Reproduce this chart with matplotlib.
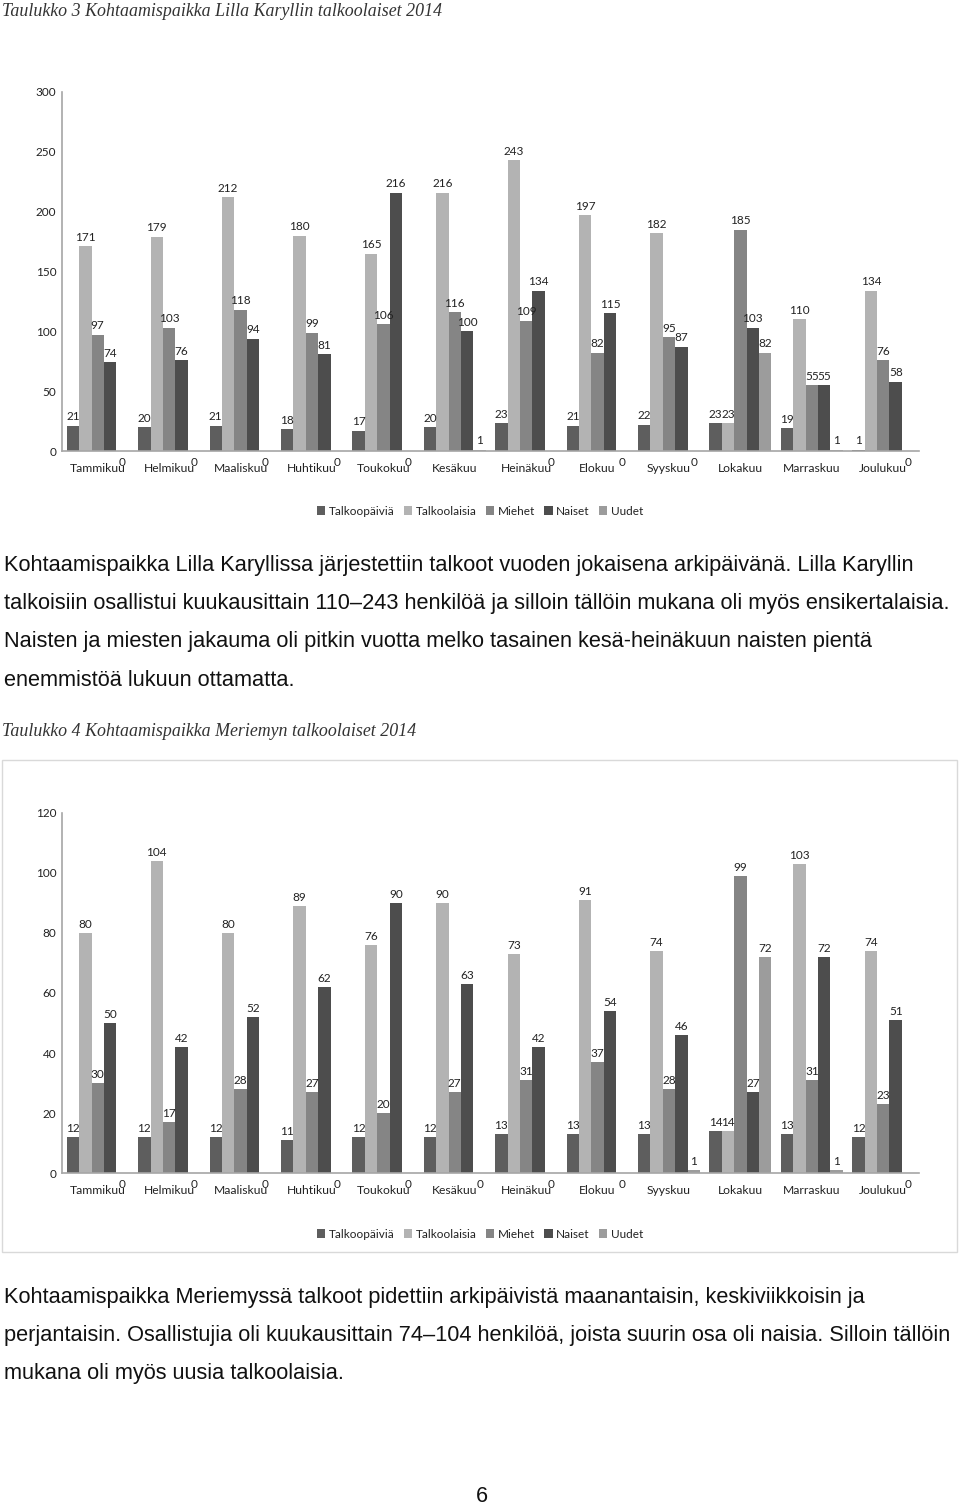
import matplotlib
matplotlib.use("Agg")
import matplotlib.pyplot as plt
from matplotlib.patches import Patch, Rectangle
import numpy as np

months = ["Tammikuu", "Helmikuu", "Maaliskuu", "Huhtikuu", "Toukokuu", "Kesäkuu",
          "Heinäkuu", "Elokuu", "Syyskuu", "Lokakuu", "Marraskuu", "Joulukuu"]
series_names = ["Talkoopäiviä", "Talkoolaisia", "Miehet", "Naiset", "Uudet"]

# Lilla Karyll
lk_talkoopaivia = [21, 20, 21, 18, 17, 20, 23, 21, 22, 23, 19, 1]
lk_talkoolaisia = [171, 179, 212, 180, 165, 216, 243, 197, 182, 23, 110, 134]
lk_miehet = [97, 103, 118, 99, 106, 116, 109, 82, 95, 185, 55, 76]
lk_naiset = [74, 76, 94, 81, 216, 100, 134, 115, 87, 103, 55, 58]
lk_uudet = [0, 0, 0, 0, 0, 1, 0, 0, 0, 82, 1, 0]

# Meriemy
me_talkoopaivia = [12, 12, 12, 11, 12, 12, 13, 13, 13, 14, 13, 12]
me_talkoolaisia = [80, 104, 80, 89, 76, 90, 73, 91, 74, 14, 103, 74]
me_miehet = [30, 17, 28, 27, 20, 27, 31, 37, 28, 99, 31, 23]
me_naiset = [50, 42, 52, 62, 90, 63, 42, 54, 46, 27, 72, 51]
me_uudet = [0, 0, 0, 0, 0, 0, 0, 0, 1, 72, 1, 0]

lk_ticks = [0, 50, 100, 150, 200, 250, 300]
me_ticks = [0, 20, 40, 60, 80, 100, 120]

colors = ["#5e5e5e", "#b3b3b3", "#858585", "#4d4d4d", "#9c9c9c"]

W, H = 960, 1507
fig = plt.figure(figsize=(W / 100, H / 100), dpi=100)

CH_FONT = ["Lato", "DejaVu Sans"]
TXT_FONT = ["Liberation Sans", "DejaVu Sans"]
SERIF = ["Liberation Serif", "DejaVu Serif"]


def px_axes(left, top, right, bottom):
    return fig.add_axes([left / W, 1 - bottom / H, (right - left) / W, (bottom - top) / H])


def draw_chart(ax, data, ticks):
    x = np.arange(len(months))
    bw = 0.1737
    for i, vals in enumerate(data):
        pos = x + (i - 2) * bw
        ax.bar(pos, vals, width=bw, color=colors[i], linewidth=0)
        for p, v in zip(pos, vals):
            if v == 0:
                ax.annotate(str(v), (p, 0), xytext=(0, -8), textcoords="offset points",
                            ha="center", va="center", fontsize=8.5, family=CH_FONT, color="#222222")
            else:
                ax.annotate(str(v), (p, v), xytext=(0, 2.5), textcoords="offset points",
                            ha="center", va="bottom", fontsize=8.5, family=CH_FONT, color="#222222")
    ax.set_xlim(-0.5, len(months) - 0.5)
    ax.set_ylim(ticks[0], ticks[-1])
    ax.set_yticks(ticks)
    ax.set_yticklabels([str(t) for t in ticks], family=CH_FONT, fontsize=8.5, color="#222222")
    ax.set_xticks(x)
    ax.set_xticklabels(months, family=CH_FONT, fontsize=8.7, color="#222222")
    ax.tick_params(length=0, pad=4)
    ax.tick_params(axis="x", pad=9)
    for s in ["top", "right"]:
        ax.spines[s].set_visible(False)
    for s in ["left", "bottom"]:
        ax.spines[s].set_color("#a6a6a6")
        ax.spines[s].set_linewidth(1.2)
    ax.patch.set_alpha(0)


# Title 1
fig.text(2 / W, 1 - 12 / H, "Taulukko 3 Kohtaamispaikka Lilla Karyllin talkoolaiset 2014",
         family=SERIF, style="italic", fontsize=12.9, color="#333333", ha="left", va="center")

ax1 = px_axes(62, 92, 919, 451)
draw_chart(ax1, [lk_talkoopaivia, lk_talkoolaisia, lk_miehet, lk_naiset, lk_uudet], lk_ticks)

handles = [Patch(facecolor=c, edgecolor="none") for c in colors]
fig.legend(handles, series_names, loc="center", bbox_to_anchor=(480 / W, 1 - 511 / H), ncol=5,
           frameon=False, prop={"family": CH_FONT, "size": 8.5}, handlelength=0.7, handleheight=0.7,
           handletextpad=0.3, columnspacing=0.8, labelcolor="#222222")

para1 = ["Kohtaamispaikka Lilla Karyllissa järjestettiin talkoot vuoden jokaisena arkipäivänä. Lilla Karyllin",
         "talkoisiin osallistui kuukausittain 110–243 henkilöä ja silloin tällöin mukana oli myös ensikertalaisia.",
         "Naisten ja miesten jakauma oli pitkin vuotta melko tasainen kesä-heinäkuun naisten pientä",
         "enemmistöä lukuun ottamatta."]
for k, line in enumerate(para1):
    fig.text(4 / W, 1 - (566 + 38 * k) / H, line, family=TXT_FONT, fontsize=15.7,
             color="#111111", ha="left", va="center")

# Title 2
fig.text(2 / W, 1 - 731 / H, "Taulukko 4 Kohtaamispaikka Meriemyn talkoolaiset 2014",
         family=SERIF, style="italic", fontsize=12.9, color="#333333", ha="left", va="center")

# Frame of second chart
fig.patches.append(Rectangle((2 / W, 1 - 1252 / H), 955 / W, 492 / H, transform=fig.transFigure,
                             fill=False, edgecolor="#d9d9d9", linewidth=1))

ax2 = px_axes(62, 813, 919, 1173)
draw_chart(ax2, [me_talkoopaivia, me_talkoolaisia, me_miehet, me_naiset, me_uudet], me_ticks)

fig.legend(handles, series_names, loc="center", bbox_to_anchor=(480 / W, 1 - 1234 / H), ncol=5,
           frameon=False, prop={"family": CH_FONT, "size": 8.5}, handlelength=0.7, handleheight=0.7,
           handletextpad=0.3, columnspacing=0.8, labelcolor="#222222")

para2 = ["Kohtaamispaikka Meriemyssä talkoot pidettiin arkipäivistä maanantaisin, keskiviikkoisin ja",
         "perjantaisin. Osallistujia oli kuukausittain 74–104 henkilöä, joista suurin osa oli naisia. Silloin tällöin",
         "mukana oli myös uusia talkoolaisia."]
for k, line in enumerate(para2):
    fig.text(4 / W, 1 - (1297 + 38 * k) / H, line, family=TXT_FONT, fontsize=15.7,
             color="#111111", ha="left", va="center")

fig.text(482 / W, 1 - 1497 / H, "6", family=TXT_FONT, fontsize=15.7, color="#111111",
         ha="center", va="center")

fig.savefig("out.png", dpi=100)
